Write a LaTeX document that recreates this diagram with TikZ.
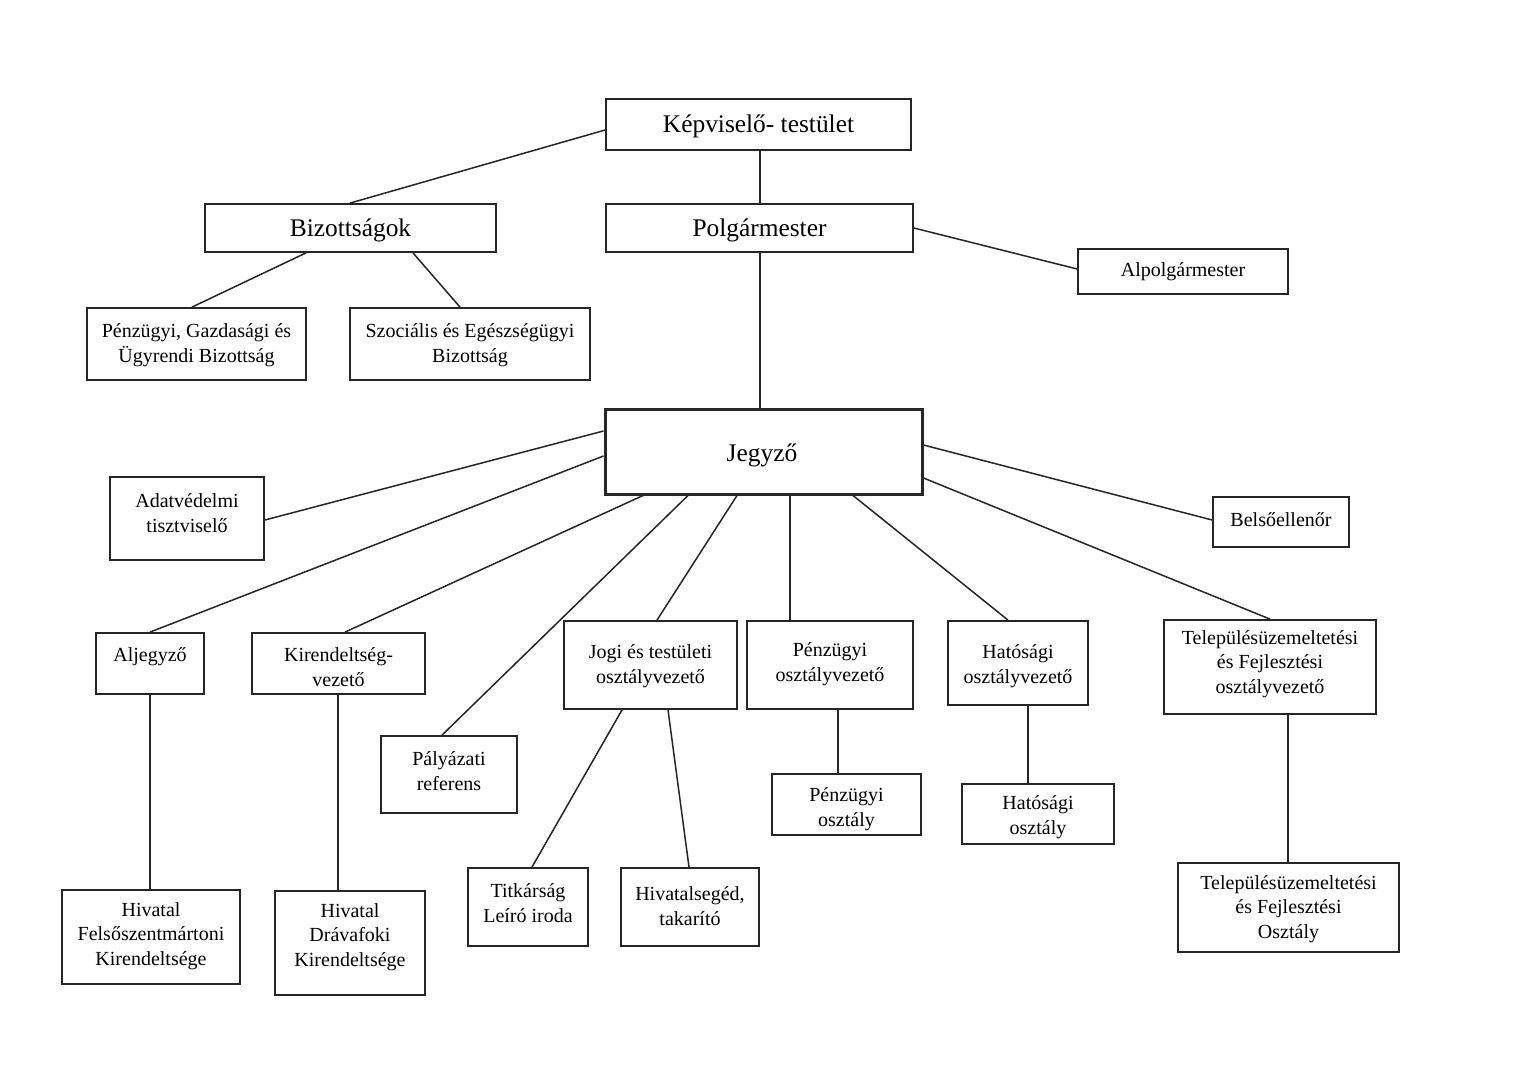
\documentclass[tikz,border=0pt]{standalone}
\usepackage{fontspec}
\setmainfont{Liberation Serif}
\usetikzlibrary{fit}
\tikzset{
  box/.style={draw=black!85, line width=0.9pt, inner sep=0pt, fill=white},
  jbox/.style={draw=black!85, line width=1.5pt, inner sep=0pt, fill=white},
  big/.style={font=\fontsize{12.7}{15}\selectfont, align=center, inner sep=0pt, yshift=-1.5pt},
  sml/.style={font=\fontsize{10}{12.3}\selectfont, align=center, inner sep=0pt, yshift=-1.5pt},
  conn/.style={draw=black!85, line width=0.75pt},
}
\begin{document}
\begin{tikzpicture}[x=0.5pt, y=-0.5pt]
\useasboundingbox[fill=white] (0,0) rectangle (1529,1080);
% boxes
\node[box, fit={(606,99) (911,150)}] (kep) {};
\node[big] (kept) at (758.5,123) {Képviselő- testület};
\node[box, fit={(205,204) (496,252)}] (biz) {};
\node[big] (bizt) at (350.5,227) {Bizottságok};
\node[box, fit={(606,204) (913,252)}] (pol) {};
\node[big] (polt) at (759.5,227) {Polgármester};
\node[box, fit={(1078,249) (1288,294)}] (alp) {};
\node[sml] (alpt) at (1183,269) {Alpolgármester};
\node[box, fit={(87,308) (306,380)}] (pgu) {};
\node[sml] (pgut) at (196.5,342) {Pénzügyi, Gazdasági és\\Ügyrendi Bizottság};
\node[box, fit={(350,308) (590,380)}] (szoc) {};
\node[sml] (szoct) at (470,342) {Szociális és Egészségügyi\\Bizottság};
\node[jbox, fit={(605,409) (922,494)}] (jeg) {};
\node[big] (jegt) at (762,452) {Jegyző};
\node[box, fit={(110,477) (264,560)}] (adat) {};
\node[sml] (adatt) at (187,510) {Adatvédelmi\\tisztviselő};
\node[box, fit={(1213,497) (1349,547)}] (bels) {};
\node[sml] (belst) at (1281,517) {Belsőellenőr};
\node[box, fit={(96,633) (204,694)}] (alj) {};
\node[sml] (aljt) at (150,654) {Aljegyző};
\node[box, fit={(252,633) (425,694)}] (kir) {};
\node[sml] (kirt) at (338.5,664) {Kirendeltség-\\vezető};
\node[box, fit={(564,621) (737,709)}] (jogi) {};
\node[sml] (jogit) at (650.5,663) {Jogi és testületi\\osztályvezető};
\node[box, fit={(747,621) (913,709)}] (penzov) {};
\node[sml] (penzovt) at (830,661) {Pénzügyi\\osztályvezető};
\node[box, fit={(948,621) (1088,705)}] (hatov) {};
\node[sml] (hatovt) at (1018,663) {Hatósági\\osztályvezető};
\node[box, fit={(1164,620) (1376,714)}] (telov) {};
\node[sml] (telovt) at (1270,661) {Településüzemeltetési\\és Fejlesztési\\osztályvezető};
\node[box, fit={(381,736) (517,813)}] (pal) {};
\node[sml] (palt) at (449,768) {Pályázati\\referens};
\node[box, fit={(772,774) (921,835)}] (penzo) {};
\node[sml] (penzot) at (846.5,806) {Pénzügyi\\osztály};
\node[box, fit={(962,784) (1114,844)}] (hato) {};
\node[sml] (hatot) at (1038,814) {Hatósági\\osztály};
\node[box, fit={(468,868) (588,946)}] (titk) {};
\node[sml] (titkt) at (528,900) {Titkárság\\Leíró iroda};
\node[box, fit={(621,868) (759,946)}] (hiv) {};
\node[sml] (hivt) at (690,903) {Hivatalsegéd,\\takarító};
\node[box, fit={(62,890) (240,984)}] (felso) {};
\node[sml] (felsot) at (151,933) {Hivatal\\Felsőszentmártoni\\Kirendeltsége};
\node[box, fit={(275,891) (425,995)}] (drav) {};
\node[sml] (dravt) at (350,934) {Hivatal\\Drávafoki\\Kirendeltsége};
\node[box, fit={(1178,863) (1399,952)}] (telo) {};
\node[sml] (telot) at (1288.5,906) {Településüzemeltetési\\és Fejlesztési\\Osztály};
% connectors
\draw[conn] (kep.west |- 0,130) -- (350,0 |- biz.north);
\draw[conn] (760,0 |- kep.south) -- (760,0 |- pol.north);
\draw[conn] (pol.east |- 0,228) -- (alp.west |- 0,269);
\draw[conn] (306,0 |- biz.south) -- (192,0 |- pgu.north);
\draw[conn] (413,0 |- biz.south) -- (460,0 |- szoc.north);
\draw[conn] (760,0 |- pol.south) -- (760,0 |- jeg.north);
\draw[conn] (jeg.west |- 0,431) -- (adat.east |- 0,520);
\draw[conn] (jeg.west |- 0,456) -- (150,0 |- alj.north);
\draw[conn] (643,0 |- jeg.south) -- (345,0 |- kir.north);
\draw[conn] (688,0 |- jeg.south) -- (442,0 |- pal.north);
\draw[conn] (737,0 |- jeg.south) -- (657,0 |- jogi.north);
\draw[conn] (790,0 |- jeg.south) -- (790,0 |- penzov.north);
\draw[conn] (853,0 |- jeg.south) -- (1008,0 |- hatov.north);
\draw[conn] (jeg.east |- 0,445) -- (bels.west |- 0,520);
\draw[conn] (jeg.east |- 0,478) -- (1270,0 |- telov.north);
\draw[conn] (150,0 |- alj.south) -- (150,0 |- felso.north);
\draw[conn] (338,0 |- kir.south) -- (338,0 |- drav.north);
\draw[conn] (622,0 |- jogi.south) -- (532,0 |- titk.north);
\draw[conn] (668,0 |- jogi.south) -- (689,0 |- hiv.north);
\draw[conn] (838,0 |- penzov.south) -- (838,0 |- penzo.north);
\draw[conn] (1028,0 |- hatov.south) -- (1028,0 |- hato.north);
\draw[conn] (1288,0 |- telov.south) -- (1288,0 |- telo.north);
\end{tikzpicture}
\end{document}
